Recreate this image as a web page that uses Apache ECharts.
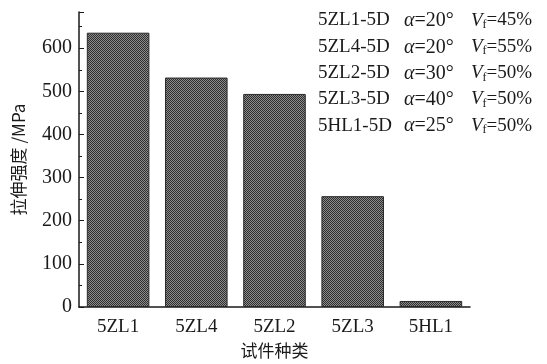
<!DOCTYPE html>
<html><head><meta charset="utf-8">
<script src="https://cdn.jsdelivr.net/npm/echarts@6/dist/echarts.min.js"></script>
<style>html,body{margin:0;padding:0;background:#fff}#c{width:547px;height:364px}</style>
</head><body><div id="c"></div>
<script>
var categories = ['5ZL1', '5ZL4', '5ZL2', '5ZL3', '5HL1'];
var strengths = [636, 532, 494, 257, 14];
var specNames = ['5ZL1-5D', '5ZL4-5D', '5ZL2-5D', '5ZL3-5D', '5HL1-5D'];
var alphas = ['20', '20', '30', '40', '25'];
var vfs = ['45', '55', '50', '50', '50'];

var cv = document.createElement('canvas');
cv.width = 2; cv.height = 2;
var cx = cv.getContext('2d');
cx.fillStyle = '#8c8c8c'; cx.fillRect(0,0,2,2);
cx.fillStyle = '#2e2e2e'; cx.fillRect(0,0,1,1); cx.fillRect(1,1,1,1);

var serif = '"Liberation Serif", "Times New Roman", serif';
var chart = echarts.init(document.getElementById('c'));
var graphics = [];
var rowY0 = 11, rowStep = 26.3;
for (var i = 0; i < specNames.length; i++) {
  var y = rowY0 + i * rowStep;
  graphics.push({type:'text', left:318, top:y, style:{text:specNames[i], font:'19px '+serif, fill:'#1a1a1a'}});
  graphics.push({type:'text', left:404, top:y, style:{text:'{i|α}=' + alphas[i] + '°', font:'20px '+serif, fill:'#1a1a1a',
    rich:{i:{fontStyle:'italic', fontSize:20, fontFamily:serif}}}});
  graphics.push({type:'text', left:471, top:y, style:{text:'{i|V}{s|f}=' + vfs[i] + '%', font:'19px '+serif, fill:'#1a1a1a',
    rich:{i:{fontStyle:'italic', fontSize:19, fontFamily:serif}, s:{fontSize:12, fontFamily:serif, padding:[9,0,0,0]}}}});
}
chart.setOption({
  animation:false,
  grid:{left:79, right:77, top:12, bottom:51},
  xAxis:{type:'category', data:categories, boundaryGap:true,
    axisLine:{lineStyle:{color:'#1a1a1a', width:1.5}},
    axisTick:{show:true, inside:true, length:4, alignWithLabel:true, lineStyle:{color:'#1a1a1a'}},
    axisLabel:{color:'#1a1a1a', fontFamily:serif, fontSize:19, margin:11},
    name:'试件种类', nameLocation:'middle', nameGap:35,
    nameTextStyle:{color:'#1a1a1a', fontSize:17, fontFamily:'"Noto Sans CJK SC"'}},
  yAxis:{type:'value', min:0, max:684, interval:100,
    axisLine:{show:true, lineStyle:{color:'#1a1a1a', width:1.5}},
    axisTick:{show:true, inside:true, length:5, lineStyle:{color:'#1a1a1a'}},
    minorTick:{show:true, splitNumber:2, length:3, lineStyle:{color:'#1a1a1a'}},
    splitLine:{show:false},
    axisLabel:{color:'#1a1a1a', fontFamily:serif, fontSize:20, margin:7,
      formatter:function(v){return v % 100 === 0 ? String(v) : '';}},
    name:'拉伸强度 /MPa', nameLocation:'middle', nameGap:52, nameRotate:90,
    nameTextStyle:{color:'#1a1a1a', fontSize:17, fontFamily:'"Noto Sans CJK SC"'}},
  series:[{type:'bar', data:strengths, barCategoryGap:'20%',
    itemStyle:{color:{image:cv, repeat:'repeat'}, borderColor:'#2a2a2a', borderWidth:1}}],
  graphic:graphics
});
</script></body></html>
